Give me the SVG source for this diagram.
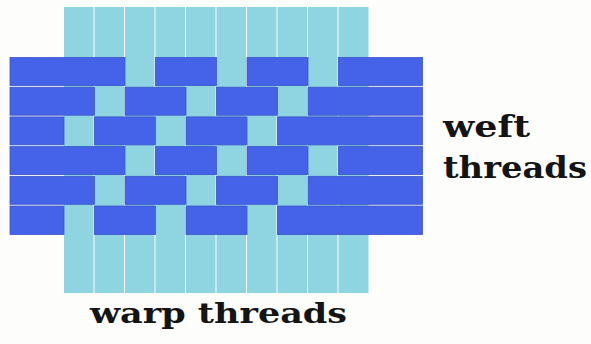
<svg xmlns="http://www.w3.org/2000/svg" width="591" height="344" viewBox="0 0 591 344">
<style>
.warp{fill:#8fd4e1}
.weft{fill:#4563e8;stroke:#3b55c9;stroke-width:0.8}
.lbl{font-family:"DejaVu Serif","Liberation Serif",serif;font-weight:bold;fill:#141414}
</style>
<rect width="591" height="344" fill="#fdfdfb"/>
<g id="warp-threads">
<rect class="warp" x="64" y="7" width="29.5" height="286"/>
<rect class="warp" x="94.5" y="7" width="29.5" height="286"/>
<rect class="warp" x="125" y="7" width="29.5" height="286"/>
<rect class="warp" x="155.5" y="7" width="29.5" height="286"/>
<rect class="warp" x="186" y="7" width="29.5" height="286"/>
<rect class="warp" x="216.5" y="7" width="29.5" height="286"/>
<rect class="warp" x="247" y="7" width="29.5" height="286"/>
<rect class="warp" x="277.5" y="7" width="29.5" height="286"/>
<rect class="warp" x="308" y="7" width="29.5" height="286"/>
<rect class="warp" x="338.5" y="7" width="30" height="286"/>
</g>
<g id="weft-threads">
<g id="row1" transform="translate(0,57.5)">
<rect class="weft" x="10" y="0" width="115" height="28"/>
<rect class="weft" x="155.5" y="0" width="61" height="28"/>
<rect class="weft" x="247" y="0" width="61" height="28"/>
<rect class="weft" x="338.5" y="0" width="84" height="28"/>
</g>
<g id="row2" transform="translate(0,87.2)">
<rect class="weft" x="10" y="0" width="84.5" height="28"/>
<rect class="weft" x="125" y="0" width="61" height="28"/>
<rect class="weft" x="216.5" y="0" width="61" height="28"/>
<rect class="weft" x="308" y="0" width="114.5" height="28"/>
</g>
<g id="row3" transform="translate(0,116.9)">
<rect class="weft" x="10" y="0" width="54" height="28"/>
<rect class="weft" x="94.5" y="0" width="61" height="28"/>
<rect class="weft" x="186" y="0" width="61" height="28"/>
<rect class="weft" x="277.5" y="0" width="145" height="28"/>
</g>
<g id="row4" transform="translate(0,146.6)">
<rect class="weft" x="10" y="0" width="115" height="28"/>
<rect class="weft" x="155.5" y="0" width="61" height="28"/>
<rect class="weft" x="247" y="0" width="61" height="28"/>
<rect class="weft" x="338.5" y="0" width="84" height="28"/>
</g>
<g id="row5" transform="translate(0,176.3)">
<rect class="weft" x="10" y="0" width="84.5" height="28"/>
<rect class="weft" x="125" y="0" width="61" height="28"/>
<rect class="weft" x="216.5" y="0" width="61" height="28"/>
<rect class="weft" x="308" y="0" width="114.5" height="28"/>
</g>
<g id="row6" transform="translate(0,206)">
<rect class="weft" x="10" y="0" width="54" height="28.5"/>
<rect class="weft" x="94.5" y="0" width="61" height="28.5"/>
<rect class="weft" x="186" y="0" width="61" height="28.5"/>
<rect class="weft" x="277.5" y="0" width="145" height="28.5"/>
</g>
</g>
<g id="weft-label">
<text class="lbl" x="443" y="137" font-size="30" textLength="87" lengthAdjust="spacingAndGlyphs">weft</text>
<text class="lbl" x="443" y="178" font-size="30" textLength="144" lengthAdjust="spacingAndGlyphs">threads</text>
</g>
<g id="warp-label">
<text class="lbl" x="90" y="323" font-size="28" textLength="257" lengthAdjust="spacingAndGlyphs">warp threads</text>
</g>
</svg>
